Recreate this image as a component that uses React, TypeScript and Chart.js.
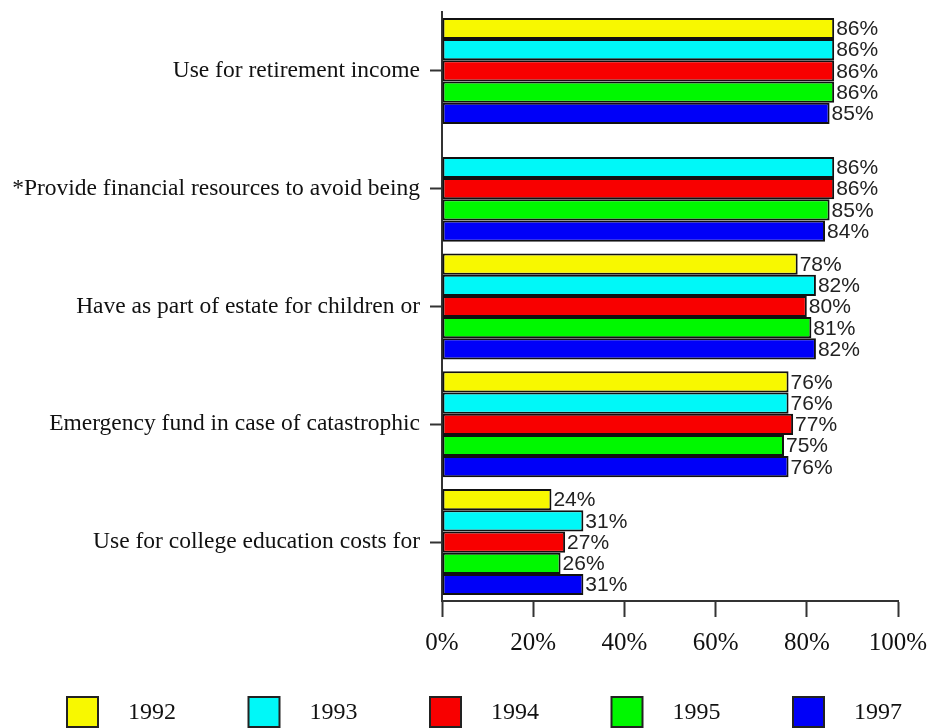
import React, { useEffect, useRef } from "react";
import { Chart, registerables } from "chart.js";

Chart.register(...registerables);

// Survey reasons, one horizontal group each
const categories = [
  "Use for retirement income",
  "*Provide financial resources to avoid being",
  "Have as part of estate for children or",
  "Emergency fund in case of catastrophic",
  "Use for college education costs for",
];

const years = ["1992", "1993", "1994", "1995", "1997"];

// Percent of respondents per survey year (null = not asked that year)
const values1992 = [86, null, 78, 76, 24];
const values1993 = [86, 86, 82, 76, 31];
const values1994 = [86, 86, 80, 77, 27];
const values1995 = [86, 85, 81, 75, 26];
const values1997 = [85, 84, 82, 76, 31];

const xTicks = [0, 20, 40, 60, 80, 100];

const seriesColors = ["#f8f800", "#00f8f8", "#f80000", "#00f800", "#0000f8"];

const valueLabels = {
  id: "valueLabels",
  afterDatasetsDraw(chart: any) {
    const ctx = chart.ctx;
    ctx.save();
    ctx.font = "21px 'Liberation Sans', Arial, sans-serif";
    ctx.fillStyle = "#222";
    ctx.textAlign = "left";
    ctx.textBaseline = "middle";
    chart.data.datasets.forEach((ds: any, di: number) => {
      const meta = chart.getDatasetMeta(di);
      meta.data.forEach((el: any, i: number) => {
        const v = ds.data[i];
        if (v === null || v === undefined) return;
        ctx.fillText(v + "%", el.x + 2, el.y + 1);
      });
    });
    ctx.restore();
  },
};

const bottomLegend = {
  id: "bottomLegend",
  afterDraw(chart: any) {
    const ctx = chart.ctx;
    ctx.save();
    const startX = 67;
    const step = 181.5;
    const boxTop = 697;
    const boxW = 31;
    const boxH = 30;
    ctx.font = "24px 'Liberation Serif', 'Times New Roman', serif";
    ctx.textBaseline = "middle";
    ctx.textAlign = "left";
    chart.data.datasets.forEach((ds: any, i: number) => {
      const x = startX + i * step;
      ctx.fillStyle = ds.backgroundColor;
      ctx.fillRect(x, boxTop, boxW, boxH);
      ctx.lineWidth = 2;
      ctx.strokeStyle = "#222";
      ctx.strokeRect(x, boxTop, boxW, boxH);
      ctx.fillStyle = "#111";
      ctx.fillText(ds.label, x + 61, boxTop + boxH / 2 + 1);
    });
    ctx.restore();
  },
};

export default function App() {
  const canvasRef = useRef<HTMLCanvasElement | null>(null);

  useEffect(() => {
    document.body.style.margin = "0";
    const series = [values1992, values1993, values1994, values1995, values1997];
    const chart = new Chart(canvasRef.current as HTMLCanvasElement, {
      type: "bar",
      data: {
        labels: categories,
        datasets: years.map((y, i) => ({
          label: y,
          data: series[i],
          backgroundColor: seriesColors[i],
          borderColor: "#111",
          borderWidth: 2,
          borderSkipped: false,
          categoryPercentage: 0.9,
          barPercentage: 1.0,
        })),
      },
      options: {
        indexAxis: "y",
        animation: false,
        responsive: true,
        maintainAspectRatio: false,
        layout: { padding: { top: 12, right: 32, bottom: 67, left: 0 } },
        plugins: {
          legend: { display: false },
          tooltip: { enabled: false },
          title: { display: false },
        },
        scales: {
          x: {
            min: 0,
            max: 100,
            afterFit(scale: any) {
              scale.height = 60;
              scale.paddingLeft = 0;
              scale.paddingRight = 0;
            },
            afterBuildTicks(scale: any) {
              scale.ticks = xTicks.map((v) => ({ value: v }));
            },
            ticks: {
              callback: (v: any) => v + "%",
              font: { family: "'Liberation Serif', 'Times New Roman', serif", size: 25 },
              color: "#111",
              padding: 11,
              maxRotation: 0,
            },
            grid: {
              drawOnChartArea: false,
              drawTicks: true,
              tickLength: 16,
              tickWidth: 2,
              tickColor: "#333",
            },
            border: { display: true, color: "#333", width: 2 },
          },
          y: {
            afterFit(scale: any) {
              scale.width = 442;
              scale.paddingTop = 0;
              scale.paddingBottom = 0;
            },
            ticks: {
              font: { family: "'Liberation Serif', 'Times New Roman', serif", size: 23.5 },
              color: "#111",
              padding: 10,
            },
            grid: {
              offset: false,
              drawOnChartArea: false,
              drawTicks: true,
              tickLength: 12,
              tickWidth: 2,
              tickColor: "#333",
            },
            border: { display: true, color: "#333", width: 2 },
          },
        },
      },
      plugins: [valueLabels, bottomLegend],
    });
    return () => chart.destroy();
  }, []);

  return (
    <div style={{ width: 930, height: 728, position: "relative" }}>
      <canvas ref={canvasRef} />
    </div>
  );
}
